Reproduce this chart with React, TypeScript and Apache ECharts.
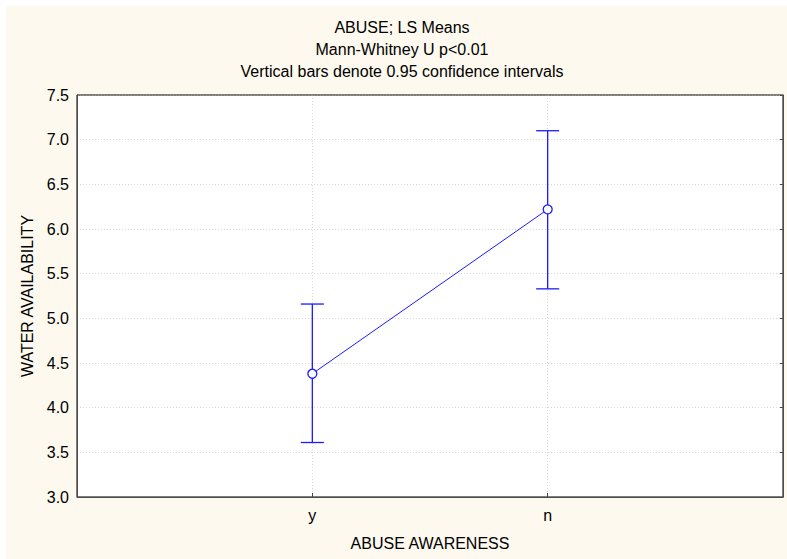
import React, { useEffect, useRef } from "react";
import * as echarts from "echarts";

const categories = ["y", "n"];
const means = [4.38, 6.22];
const lower = [3.61, 5.33];
const upper = [5.16, 7.1];
const yTicks = { min: 3.0, max: 7.5, step: 0.5 };
const titleLines = ["ABUSE; LS Means", "Mann-Whitney U p<0.01", "Vertical bars denote 0.95 confidence intervals"];
const xName = "ABUSE AWARENESS";
const yName = "WATER AVAILABILITY";

const FONT = "'Liberation Sans', Arial, sans-serif";
const BLUE = "#1a1aff";

export default function App() {
  const ref = useRef<HTMLDivElement>(null);
  useEffect(() => {
    document.body.style.margin = "0";
    const chart = echarts.init(ref.current!, null, { renderer: "svg" });
    const positions = categories.map((_, i) => i + 1);
    chart.setOption({
      animation: false,
      backgroundColor: "#ffffff",
      textStyle: { fontFamily: FONT },
      graphic: [
        { type: "rect", z: -10, silent: true, shape: { x: 6, y: 6, width: 781, height: 553 }, style: { fill: "#fdf9ef" } },
        { type: "rect", z: 100, silent: true, shape: { x: 77, y: 95, width: 706, height: 402 }, style: { fill: "none", stroke: "#555", lineWidth: 1 } },
        ...titleLines.map((t, i) => ({
          type: "text",
          x: 402,
          y: 27 + i * 22,
          style: { text: t, fill: "#000", font: `16px ${FONT}`, align: "center", verticalAlign: "middle" },
        })),
      ],
      grid: { left: 77, right: 4, top: 95, bottom: 62, show: true, backgroundColor: "#ffffff", borderColor: "#555", borderWidth: 1 },
      xAxis: {
        type: "value",
        min: 0,
        max: 3,
        interval: 1,
        name: xName,
        nameLocation: "middle",
        nameGap: 38,
        nameTextStyle: { color: "#000", fontSize: 16, fontFamily: FONT },
        axisLine: { show: true, lineStyle: { color: "#444" } },
        axisTick: { show: true, inside: true, length: 4, lineStyle: { color: "#444" } },
        axisLabel: {
          color: "#000",
          fontSize: 16,
          margin: 10,
          formatter: (v: number) => categories[v - 1] ?? "",
        },
        splitLine: { show: true, lineStyle: { color: "#d8d8d8", type: [1, 2] } },
      },
      yAxis: [
        {
          type: "value",
          min: yTicks.min,
          max: yTicks.max,
          interval: yTicks.step,
          name: yName,
          nameLocation: "middle",
          nameGap: 42,
          nameRotate: 90,
          nameTextStyle: { color: "#000", fontSize: 16, fontFamily: FONT },
          axisLine: { show: true, lineStyle: { color: "#444" } },
          axisTick: { show: false },
          axisLabel: { color: "#000", fontSize: 16, margin: 8, formatter: (v: number) => v.toFixed(1) },
          splitLine: { show: true, lineStyle: { color: "#d8d8d8", type: [1, 2] } },
        },
        {
          type: "value",
          position: "right",
          min: yTicks.min,
          max: yTicks.max,
          interval: yTicks.step,
          axisLine: { show: true, lineStyle: { color: "#444" } },
          axisTick: { show: true, inside: true, length: 3, lineStyle: { color: "#444" } },
          axisLabel: { show: false },
          splitLine: { show: false },
        },
      ],
      series: [
        {
          type: "custom",
          z: 2,
          data: positions.map((p, i) => [p, lower[i], upper[i]]),
          renderItem: (params: any, api: any) => {
            const x = api.value(0);
            const lo = api.coord([x, api.value(1)]);
            const hi = api.coord([x, api.value(2)]);
            const hw = 11.5;
            const style = { stroke: BLUE, lineWidth: 1.3 };
            return {
              type: "group",
              children: [
                { type: "line", shape: { x1: lo[0], y1: lo[1], x2: hi[0], y2: hi[1] }, style },
                { type: "line", shape: { x1: lo[0] - hw, y1: lo[1], x2: lo[0] + hw, y2: lo[1] }, style },
                { type: "line", shape: { x1: hi[0] - hw, y1: hi[1], x2: hi[0] + hw, y2: hi[1] }, style },
              ],
            };
          },
        },
        {
          type: "line",
          z: 3,
          data: positions.map((p, i) => [p, means[i]]),
          lineStyle: { color: BLUE, width: 1 },
          itemStyle: { color: "#ffffff", borderColor: BLUE, borderWidth: 1.3 },
          symbol: "circle",
          symbolSize: 9,
          showSymbol: true,
        },
      ],
    });
    return () => chart.dispose();
  }, []);
  return <div ref={ref} style={{ position: "absolute", left: 0, top: 0, width: 787, height: 559 }} />;
}
